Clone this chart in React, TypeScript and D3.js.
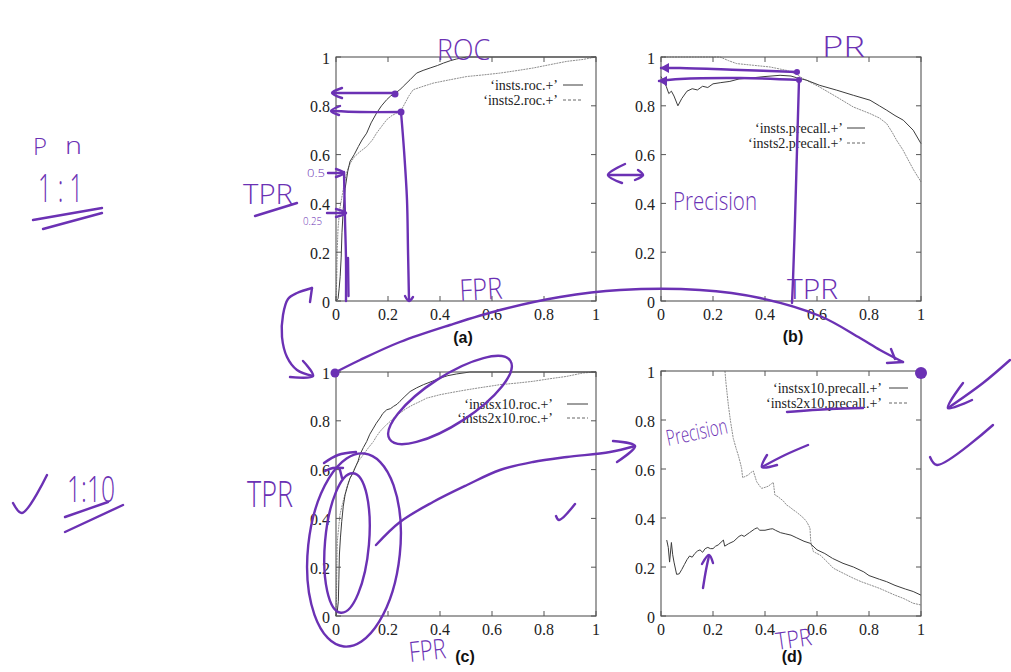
import React from 'react';
import * as d3 from 'd3';

type Pt = [number, number];

// ---------- DATA ----------
const TICKS = [0, 0.2, 0.4, 0.6, 0.8, 1];
const TICK_LABELS = ['0', '0.2', '0.4', '0.6', '0.8', '1'];

const ROC_A_SOLID: Pt[] = [[0,0],[0.008,0.01],[0.012,0.05],[0.016,0.1],[0.02,0.18],[0.023,0.28],[0.028,0.38],[0.035,0.46],[0.045,0.53],[0.054,0.572],[0.07,0.6],[0.086,0.633],[0.1,0.66],[0.118,0.688],[0.135,0.73],[0.156,0.77],[0.175,0.8],[0.195,0.825],[0.21,0.84],[0.227,0.852],[0.245,0.865],[0.259,0.88],[0.285,0.907],[0.31,0.934],[0.335,0.945],[0.362,0.955],[0.39,0.965],[0.413,0.975],[0.44,0.985],[0.464,0.992],[0.503,1],[1,1]];
const ROC_A_DOTTED: Pt[] = [[0,0],[0.003,0.1],[0.005,0.22],[0.008,0.3],[0.015,0.38],[0.025,0.44],[0.035,0.5],[0.045,0.54],[0.055,0.565],[0.07,0.59],[0.09,0.61],[0.118,0.633],[0.14,0.66],[0.156,0.688],[0.175,0.715],[0.195,0.743],[0.215,0.76],[0.233,0.77],[0.25,0.78],[0.265,0.81],[0.28,0.84],[0.297,0.866],[0.33,0.878],[0.374,0.893],[0.43,0.905],[0.503,0.92],[0.57,0.927],[0.63,0.934],[0.7,0.945],[0.759,0.955],[0.82,0.968],[0.887,0.982],[0.95,0.99],[1,1]];

const PR_B_SOLID: Pt[] = [[0,0.92],[0.01,0.9],[0.02,0.88],[0.03,0.85],[0.04,0.86],[0.05,0.84],[0.065,0.8],[0.08,0.83],[0.1,0.86],[0.12,0.87],[0.14,0.865],[0.16,0.88],[0.18,0.875],[0.2,0.89],[0.23,0.895],[0.265,0.9],[0.3,0.91],[0.355,0.915],[0.4,0.92],[0.458,0.925],[0.5,0.922],[0.522,0.915],[0.56,0.905],[0.61,0.884],[0.676,0.864],[0.74,0.843],[0.804,0.823],[0.84,0.8],[0.868,0.782],[0.9,0.76],[0.932,0.741],[0.97,0.7],[1,0.645]];
const PR_B_DOTTED: Pt[] = [[0,1],[0.1,1],[0.2,1],[0.227,1],[0.26,0.985],[0.291,0.973],[0.355,0.966],[0.42,0.959],[0.483,0.945],[0.52,0.93],[0.547,0.911],[0.61,0.877],[0.676,0.836],[0.74,0.795],[0.804,0.768],[0.84,0.75],[0.868,0.727],[0.89,0.69],[0.906,0.659],[0.93,0.62],[0.945,0.59],[0.97,0.54],[1,0.488]];

const ROC_C_SOLID: Pt[] = [[0,0],[0.005,0.02],[0.009,0.06],[0.011,0.15],[0.013,0.25],[0.017,0.32],[0.022,0.387],[0.028,0.45],[0.035,0.497],[0.045,0.535],[0.054,0.565],[0.065,0.585],[0.073,0.606],[0.085,0.635],[0.092,0.661],[0.105,0.69],[0.118,0.715],[0.13,0.745],[0.144,0.77],[0.155,0.79],[0.169,0.811],[0.18,0.83],[0.195,0.845],[0.21,0.85],[0.221,0.859],[0.235,0.868],[0.246,0.88],[0.265,0.9],[0.285,0.92],[0.31,0.935],[0.336,0.948],[0.37,0.962],[0.4,0.975],[0.43,0.985],[0.464,0.992],[0.515,1],[1,1]];
const ROC_C_DOTTED: Pt[] = [[0,0],[0.002,0.08],[0.003,0.18],[0.005,0.305],[0.01,0.36],[0.015,0.414],[0.025,0.46],[0.035,0.5],[0.045,0.54],[0.054,0.565],[0.065,0.59],[0.079,0.62],[0.09,0.64],[0.105,0.661],[0.125,0.69],[0.144,0.715],[0.155,0.735],[0.169,0.756],[0.19,0.78],[0.208,0.797],[0.225,0.815],[0.246,0.832],[0.27,0.85],[0.297,0.866],[0.325,0.88],[0.349,0.893],[0.375,0.9],[0.4,0.907],[0.45,0.917],[0.503,0.927],[0.55,0.935],[0.6,0.943],[0.63,0.948],[0.7,0.955],[0.759,0.962],[0.82,0.972],[0.887,0.982],[0.95,0.996],[1,1]];

const PR_D_SOLID: Pt[] = [[0.022,0.31],[0.028,0.28],[0.033,0.22],[0.04,0.3],[0.045,0.25],[0.05,0.22],[0.06,0.17],[0.07,0.172],[0.08,0.19],[0.09,0.21],[0.1,0.23],[0.11,0.245],[0.12,0.24],[0.13,0.255],[0.14,0.265],[0.15,0.27],[0.16,0.26],[0.17,0.275],[0.18,0.28],[0.19,0.275],[0.2,0.275],[0.21,0.285],[0.22,0.29],[0.24,0.31],[0.245,0.285],[0.26,0.295],[0.28,0.305],[0.3,0.325],[0.31,0.33],[0.32,0.325],[0.34,0.34],[0.36,0.355],[0.37,0.36],[0.38,0.35],[0.4,0.35],[0.42,0.355],[0.43,0.356],[0.44,0.35],[0.46,0.34],[0.48,0.335],[0.5,0.33],[0.52,0.32],[0.55,0.305],[0.573,0.297],[0.6,0.27],[0.63,0.255],[0.66,0.235],[0.7,0.215],[0.74,0.2],[0.78,0.18],[0.8,0.165],[0.84,0.15],[0.868,0.14],[0.9,0.125],[0.94,0.11],[0.97,0.1],[1,0.085]];
const PR_D_DOTTED: Pt[] = [[0.246,1],[0.25,0.95],[0.259,0.861],[0.268,0.79],[0.278,0.725],[0.29,0.68],[0.297,0.657],[0.305,0.625],[0.31,0.603],[0.314,0.565],[0.325,0.57],[0.336,0.576],[0.345,0.585],[0.355,0.592],[0.36,0.575],[0.368,0.548],[0.38,0.53],[0.387,0.521],[0.4,0.525],[0.413,0.53],[0.425,0.54],[0.432,0.545],[0.438,0.494],[0.45,0.487],[0.458,0.48],[0.47,0.47],[0.483,0.453],[0.495,0.445],[0.509,0.433],[0.52,0.425],[0.535,0.412],[0.55,0.398],[0.56,0.385],[0.568,0.37],[0.573,0.358],[0.576,0.303],[0.586,0.263],[0.6,0.255],[0.612,0.249],[0.64,0.22],[0.663,0.195],[0.7,0.175],[0.74,0.154],[0.77,0.14],[0.804,0.127],[0.84,0.113],[0.868,0.1],[0.9,0.085],[0.932,0.072],[0.97,0.052],[1,0.045]];

const LEGEND_A = ['\u2018insts.roc.+\u2019', '\u2018insts2.roc.+\u2019'];
const LEGEND_B = ['\u2018insts.precall.+\u2019', '\u2018insts2.precall.+\u2019'];
const LEGEND_C = ['\u2018instsx10.roc.+\u2019', '\u2018insts2x10.roc.+\u2019'];
const LEGEND_D = ['\u2018instsx10.precall.+\u2019', '\u2018insts2x10.precall.+\u2019'];
const PANEL_LABELS = ['(a)', '(b)', '(c)', '(d)'];

// ---------- LAYOUT ----------
const PANELS = [
  { x: 336, y: 57, w: 260, h: 244, labelX: 463, labelY: 337, solid: ROC_A_SOLID, dotted: ROC_A_DOTTED, legend: LEGEND_A, legX: 558, legY: 85, legDy: 15, l1: 563, l2: 583 },
  { x: 661, y: 57, w: 260, h: 244, labelX: 793, labelY: 336, solid: PR_B_SOLID, dotted: PR_B_DOTTED, legend: LEGEND_B, legX: 843, legY: 128, legDy: 15, l1: 847, l2: 865 },
  { x: 336, y: 372, w: 260, h: 244, labelX: 465, labelY: 656, solid: ROC_C_SOLID, dotted: ROC_C_DOTTED, legend: LEGEND_C, legX: 553, legY: 404, legDy: 14, l1: 567, l2: 588 },
  { x: 661, y: 371, w: 260, h: 245, labelX: 792, labelY: 656, solid: PR_D_SOLID, dotted: PR_D_DOTTED, legend: LEGEND_D, legX: 882, legY: 388, legDy: 15, l1: 889, l2: 908 },
];

const INK = '#6b31b4';
const FRAME = '#555';
const SERIF = '"Liberation Serif", "Times New Roman", serif';
const HAND = '"Open Sans", "DejaVu Sans", sans-serif';

// handwritten text: [text, x, baseline, fontSize, textLength, rotation]
const HAND_TEXT: [string, number, number, number, number, number][] = [
  ['ROC', 437, 60, 30, 53, 0],
  ['PR', 822, 57, 30, 43, 0],
  ['FPR', 460, 301, 30, 43, -3],
  ['TPR', 787, 299, 27, 51, 0],
  ['TPR', 243, 204, 28, 50, 0],
  ['P', 33, 155, 24, 14, 0],
  ['n', 65, 154, 24, 17, 0],
  ['1 : 1', 38, 202, 38, 45, 0],
  ['1:10', 67, 502, 36, 48, 0],
  ['TPR', 247, 507, 36, 46, 0],
  ['0.5', 307, 177, 11, 18, 0],
  ['0.25', 303, 225, 10, 19, 0],
  ['Precision', 673, 210, 26, 84, 0],
  ['Precision', 668, 446, 22, 62, -12],
  ['FPR', 410, 662, 28, 37, -6],
  ['TPR', 777, 650, 24, 36, -8],
];

// hand-drawn strokes (page pixels)
const STROKES: Pt[][] = [
  [[395, 93], [360, 93], [333, 93]],
  [[342, 88], [332, 93], [342, 98]],
  [[401, 112], [360, 112], [333, 111]],
  [[340, 106], [331, 111], [339, 115]],
  [[401, 112], [404, 150], [407, 200], [408, 250], [409, 300]],
  [[405, 296], [409, 301], [413, 297]],
  [[344, 172], [345, 220], [346, 260], [346, 301]],
  [[348, 258], [348.5, 296]],
  [[328, 173], [344, 173]],
  [[336, 169], [344, 173], [336, 177]],
  [[327, 213], [346, 213]],
  [[336, 209], [346, 213], [336, 217]],
  [[797, 72], [740, 70], [680, 68], [661, 68]],
  [[800, 80], [740, 78], [680, 79], [659, 81]],
  [[799, 80], [797, 150], [795, 220], [793, 280], [792, 303]],
  [[608, 175], [643, 175]],
  [[625, 164], [608, 175], [622, 183]],
  [[638, 170], [643, 175], [635, 180]],
  [[334, 373], [360, 360], [400, 342], [450, 325], [500, 310], [560, 297], [620, 290], [700, 290], [760, 298], [820, 316], [860, 338], [880, 350], [903, 362]],
  [[891, 349], [895, 359]],
  [[887, 363], [903, 362]],
  [[312, 288], [297, 293], [288, 299], [283, 315], [282, 337], [287, 357], [297, 370], [313, 376]],
  [[312, 288], [310, 302]],
  [[303, 361], [313, 376], [290, 377]],
  [[325, 471], [333, 468], [343, 468]],
  [[340, 470], [342, 478]],
  [[324, 463], [338, 455], [356, 452]],
  [[376, 545], [400, 522], [433, 502], [467, 485], [500, 470], [533, 462], [567, 457], [610, 452], [635, 446]],
  [[613, 441], [635, 446], [617, 462]],
  [[556, 516], [559, 520], [575, 504]],
  [[808, 445], [785, 455], [762, 467]],
  [[767, 455], [762, 467], [777, 465]],
  [[703, 588], [706, 570], [709, 556]],
  [[702, 564], [709, 555], [713, 563]],
  [[787, 412], [830, 409], [863, 408]],
  [[1010, 360], [983, 383], [948, 408]],
  [[963, 383], [948, 408], [972, 400]],
  [[930, 457], [937, 465], [993, 425]],
  [[13, 503], [22, 513], [47, 475]],
  [[33, 220], [102, 208]],
  [[43, 229], [102, 213]],
  [[65, 517], [108, 502]],
  [[65, 532], [123, 505]],
  [[255, 216], [297, 203]],
];

const ARROW_TRIS: Pt[][] = [
  [[669, 63], [660, 68], [669, 73]],
  [[667, 76], [658, 81], [667, 86]],
];

const DOTS: [number, number, number][] = [
  [395, 94, 3.5], [401, 112, 3.5], [797, 72, 3], [799, 80, 3], [921, 373, 6], [335, 373, 4.5],
];

const ELLIPSES: [number, number, number, number, number][] = [
  [450, 400, 72, 24, -33],
  [354, 550, 46, 97, 6],
  [347, 543, 22, 70, 5],
];

const inkLine = d3.line<Pt>().x(d => d[0]).y(d => d[1]).curve(d3.curveCatmullRom.alpha(0.5));

function Panel({ p, i }: { p: typeof PANELS[number]; i: number }) {
  const xs = d3.scaleLinear().domain([0, 1]).range([p.x, p.x + p.w]);
  const ys = d3.scaleLinear().domain([0, 1]).range([p.y + p.h, p.y]);
  const line = d3.line<Pt>().x(d => xs(d[0])).y(d => ys(d[1]));
  const T = 5;
  return (
    <g>
      <path d={line(p.dotted) || ''} fill="none" stroke="#8e8e8e" strokeWidth={1} strokeDasharray="2 0.8" />
      <path d={line(p.solid) || ''} fill="none" stroke="#3c3c3c" strokeWidth={1} />
      <rect x={p.x} y={p.y} width={p.w} height={p.h} fill="none" stroke={FRAME} strokeWidth={1.1} />
      {TICKS.map((t, k) => (
        <g key={k}>
          <line x1={p.x} x2={p.x + T} y1={ys(t)} y2={ys(t)} stroke={FRAME} />
          <line x1={p.x + p.w} x2={p.x + p.w - T} y1={ys(t)} y2={ys(t)} stroke={FRAME} />
          <line x1={xs(t)} x2={xs(t)} y1={p.y + p.h} y2={p.y + p.h - T} stroke={FRAME} />
          <line x1={xs(t)} x2={xs(t)} y1={p.y} y2={p.y + T} stroke={FRAME} />
          <text x={p.x - 6} y={ys(t) + 1} textAnchor="end" dominantBaseline="central" fontFamily={SERIF} fontSize={16} fill="#222">{TICK_LABELS[k]}</text>
          <text x={xs(t)} y={p.y + p.h + 13} textAnchor="middle" dominantBaseline="central" fontFamily={SERIF} fontSize={16} fill="#222">{TICK_LABELS[k]}</text>
        </g>
      ))}
      {p.legend.map((lab, k) => (
        <g key={k}>
          <text x={p.legX} y={p.legY + k * p.legDy} textAnchor="end" dominantBaseline="central" fontFamily={SERIF} fontSize={14} fill="#222">{lab}</text>
          <line x1={p.l1} x2={p.l2} y1={p.legY + k * p.legDy} y2={p.legY + k * p.legDy}
            stroke={k === 0 ? '#3c3c3c' : '#666'} strokeWidth={1} strokeDasharray={k === 0 ? undefined : '3 2'} />
        </g>
      ))}
      <text x={p.labelX} y={p.labelY} textAnchor="middle" dominantBaseline="central" fontFamily='"Liberation Sans", Arial, sans-serif' fontWeight="bold" fontSize={16} fill="#111">{PANEL_LABELS[i]}</text>
    </g>
  );
}

export default function App() {
  return (
    <svg width={1011} height={672} style={{ position: 'absolute', left: 0, top: 0, background: '#fff' }}>
      <rect x={0} y={0} width={1011} height={672} fill="#fff" />
      {PANELS.map((p, i) => <Panel key={i} p={p} i={i} />)}
      <g stroke={INK} strokeWidth={2.4} fill="none" strokeLinecap="round" strokeLinejoin="round">
        {STROKES.map((s, k) => <path key={k} d={inkLine(s) || ''} />)}
        {ELLIPSES.map((e, k) => (
          <ellipse key={k} cx={e[0]} cy={e[1]} rx={e[2]} ry={e[3]} transform={`rotate(${e[4]} ${e[0]} ${e[1]})`} />
        ))}
      </g>
      <g fill={INK}>
        {ARROW_TRIS.map((t, k) => <path key={k} d={`M${t.map(q => q.join(',')).join('L')}Z`} />)}
        {DOTS.map((d, k) => <circle key={k} cx={d[0]} cy={d[1]} r={d[2]} />)}
        {HAND_TEXT.map((t, k) => (
          <text key={k} x={t[1]} y={t[2]} fontFamily={HAND} fontWeight={300} fontSize={t[3]} textLength={t[4]} lengthAdjust="spacingAndGlyphs"
            transform={t[5] ? `rotate(${t[5]} ${t[1]} ${t[2]})` : undefined}>{t[0]}</text>
        ))}
      </g>
    </svg>
  );
}
